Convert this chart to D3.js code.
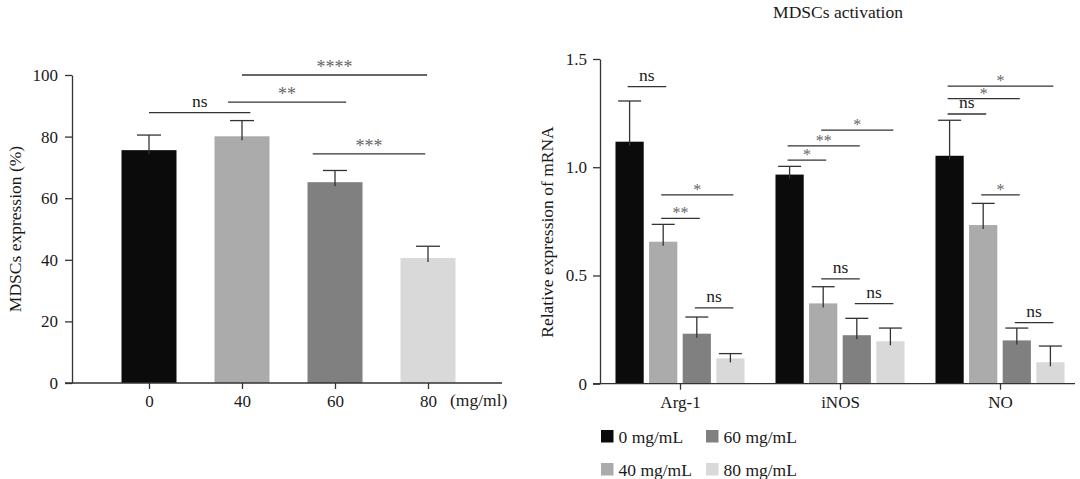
<html><head>
<title>MDSCs expression and activation</title>
<script src="https://d3js.org/d3.v7.min.js"></script>
<style>
  body { margin: 0; background: #ffffff; }
  text { font-family: 'Liberation Serif', 'DejaVu Serif', serif; fill: #1a1a1a; }
  .tick text { font-size: 17px; }
  .axis path, .axis line { stroke: #333; stroke-width: 1.3px; }
  .label { font-size: 17.5px; }
  .sig { stroke: #333; stroke-width: 1.3px; }
  .star { fill: #666; }
  .ns { font-size: 17.5px; }
</style>
</head>
<body>
<svg id="fig" width="1080" height="479"></svg>
<script>
// ---- left panel data
const leftDoses = ["0", "40", "60", "80"];
const leftMeans = [75.6, 80.1, 65.2, 40.6];
const leftErrs = [4.9, 5.1, 3.8, 3.8];
// comparisons: from/to are dose positions (index units), y in %
const leftSig = [
  {from: 0, to: 1.09, y: 87.8, label: "ns"},
  {from: 0.85, to: 2.12, y: 91.2, label: "**"},
  {from: 1, to: 2.99, y: 100, label: "****"},
  {from: 1.76, to: 2.97, y: 74.4, label: "***"}
];

// ---- right panel data
const genes = ["Arg-1", "iNOS", "NO"];
const doses = ["0 mg/mL", "40 mg/mL", "60 mg/mL", "80 mg/mL"];
const argMeans = [1.118, 0.656, 0.231, 0.117];
const argErrs = [0.188, 0.080, 0.077, 0.022];
const inosMeans = [0.966, 0.371, 0.224, 0.196];
const inosErrs = [0.038, 0.077, 0.078, 0.061];
const noMeans = [1.053, 0.733, 0.200, 0.099];
const noErrs = [0.164, 0.100, 0.057, 0.075];
// [gene, from dose, to dose, y, label]
const rightSig = [
  ["Arg-1", 0, 1, 1.372, "ns"], ["Arg-1", 1, 2, 0.764, "**"], ["Arg-1", 1, 3, 0.872, "*"], ["Arg-1", 2, 3, 0.350, "ns"],
  ["iNOS", 0, 1, 1.033, "*"], ["iNOS", 0, 2, 1.099, "**"], ["iNOS", 1, 3, 1.171, "*"], ["iNOS", 1, 2, 0.484, "ns"], ["iNOS", 2, 3, 0.370, "ns"],
  ["NO", 0, 3, 1.375, "*"], ["NO", 0, 2, 1.317, "*"], ["NO", 0, 1, 1.246, "ns"], ["NO", 1, 2, 0.872, "*"], ["NO", 2, 3, 0.282, "ns"]
];

const colors = ["#0b0b0b", "#ababab", "#808080", "#d9d9d9"];

const svg = d3.select("#fig");

// ================= left panel
const lx = d3.scalePoint().domain(leftDoses).range([149, 428]);
const lxi = d3.scaleLinear().domain([0, 3]).range([149, 428]);
const ly = d3.scaleLinear().domain([0, 100]).range([383, 75]);
const lBarW = 55;

const left = svg.append("g");

left.selectAll("rect.bar").data(leftDoses)
  .join("rect")
  .attr("class", "bar")
  .attr("x", d => lx(d) - lBarW / 2)
  .attr("width", lBarW)
  .attr("y", (d, i) => ly(leftMeans[i]))
  .attr("height", (d, i) => ly(0) - ly(leftMeans[i]))
  .attr("fill", (d, i) => colors[i]);

// error bars (upper only)
leftDoses.forEach((d, i) => {
  const cx = lx(d);
  left.append("line").attr("class", "sig")
    .attr("x1", cx).attr("x2", cx)
    .attr("y1", ly(leftMeans[i]) + 4).attr("y2", ly(leftMeans[i] + leftErrs[i]));
  left.append("line").attr("class", "sig")
    .attr("x1", cx - 12).attr("x2", cx + 12)
    .attr("y1", ly(leftMeans[i] + leftErrs[i])).attr("y2", ly(leftMeans[i] + leftErrs[i]));
});

left.append("g").attr("class", "axis")
  .attr("transform", "translate(72,0)")
  .call(d3.axisLeft(ly).tickValues([0, 20, 40, 60, 80, 100]).tickSize(7).tickSizeOuter(0).tickPadding(7));

left.append("line").attr("class", "sig")
  .attr("x1", 65).attr("x2", 502).attr("y1", ly(0)).attr("y2", ly(0));
const lxAxis = left.append("g").attr("class", "axis")
  .attr("transform", `translate(0,${ly(0)})`)
  .call(d3.axisBottom(lx).tickSize(6).tickSizeOuter(0).tickPadding(6));
lxAxis.select(".domain").remove();

left.append("text").attr("class", "label")
  .attr("x", 450).attr("y", 406).text("(mg/ml)");

left.append("text").attr("class", "label")
  .attr("text-anchor", "middle")
  .attr("transform", "translate(21,229) rotate(-90)")
  .text("MDSCs expression (%)");

leftSig.forEach(s => {
  const isNs = s.label === "ns";
  left.append("line").attr("class", "sig")
    .attr("x1", lxi(s.from)).attr("x2", lxi(s.to))
    .attr("y1", ly(s.y)).attr("y2", ly(s.y));
  left.append("text")
    .attr("class", isNs ? "ns" : "star")
    .attr("text-anchor", "middle")
    .style("font-size", isNs ? null : "18px")
    .attr("x", (lxi(s.from) + lxi(s.to)) / 2)
    .attr("y", ly(s.y) - (isNs ? 6 : 2))
    .text(s.label);
});

// ================= right panel
const rx = d3.scalePoint().domain(genes).range([680, 1000]);
const rsub = d3.scaleBand().domain(d3.range(4)).range([-67.2, 67.2]).paddingInner(0.16).paddingOuter(0.08);
const ry = d3.scaleLinear().domain([0, 1.5]).range([383.7, 59]);

const rightData = [];
[argMeans, inosMeans, noMeans].forEach((means, g) => {
  const errs = [argErrs, inosErrs, noErrs][g];
  means.forEach((m, k) => rightData.push({gene: genes[g], k: k, mean: m, err: errs[k]}));
});

const right = svg.append("g");

right.selectAll("rect.bar").data(rightData)
  .join("rect")
  .attr("class", "bar")
  .attr("x", d => rx(d.gene) + rsub(d.k))
  .attr("width", rsub.bandwidth())
  .attr("y", d => ry(d.mean))
  .attr("height", d => ry(0) - ry(d.mean))
  .attr("fill", d => colors[d.k]);

const cxOf = (gene, k) => rx(gene) + rsub(k) + rsub.bandwidth() / 2;

rightData.forEach(d => {
  const cx = cxOf(d.gene, d.k);
  right.append("line").attr("class", "sig")
    .attr("x1", cx).attr("x2", cx)
    .attr("y1", ry(d.mean) + 4).attr("y2", ry(d.mean + d.err));
  right.append("line").attr("class", "sig")
    .attr("x1", cx - 11.5).attr("x2", cx + 11.5)
    .attr("y1", ry(d.mean + d.err)).attr("y2", ry(d.mean + d.err));
});

right.append("g").attr("class", "axis")
  .attr("transform", "translate(600,0)")
  .call(d3.axisLeft(ry).tickValues([0, 0.5, 1.0, 1.5])
    .tickFormat(d => d === 0 ? "0" : d3.format(".1f")(d))
    .tickSize(7).tickSizeOuter(0).tickPadding(6));

right.append("line").attr("class", "sig")
  .attr("x1", 593).attr("x2", 1075).attr("y1", ry(0)).attr("y2", ry(0));
const rxAxis = right.append("g").attr("class", "axis")
  .attr("transform", `translate(0,${ry(0)})`)
  .call(d3.axisBottom(rx).tickSize(6).tickSizeOuter(0).tickPadding(6));
rxAxis.select(".domain").remove();

right.append("text").attr("class", "label")
  .attr("text-anchor", "middle")
  .attr("transform", "translate(553,232) rotate(-90)")
  .text("Relative expression of mRNA");

right.append("text").attr("class", "label")
  .attr("text-anchor", "middle")
  .attr("x", 838).attr("y", 18)
  .text("MDSCs activation");

rightSig.forEach(s => {
  const isNs = s[4] === "ns";
  const x1 = cxOf(s[0], s[1]) - 2, x2 = cxOf(s[0], s[2]) + 3;
  right.append("line").attr("class", "sig")
    .attr("x1", x1).attr("x2", x2)
    .attr("y1", ry(s[3])).attr("y2", ry(s[3]));
  right.append("text")
    .attr("class", isNs ? "ns" : "star")
    .attr("text-anchor", "middle")
    .style("font-size", isNs ? null : "16px")
    .attr("x", (x1 + x2) / 2)
    .attr("y", ry(s[3]) - (isNs ? 6 : 0))
    .text(s[4]);
});

// legend: two columns, filled column by column
const legend = svg.append("g").selectAll("g").data(doses)
  .join("g")
  .attr("transform", (d, i) => `translate(${i < 2 ? 601 : 706},${i % 2 === 0 ? 430 : 463})`);
legend.append("rect")
  .attr("width", 12.5).attr("height", 12.5)
  .attr("fill", (d, i) => colors[i]);
legend.append("text").attr("class", "label")
  .attr("x", 17.5).attr("y", 12.5)
  .text(d => d);
</script>
</body>
</html>
